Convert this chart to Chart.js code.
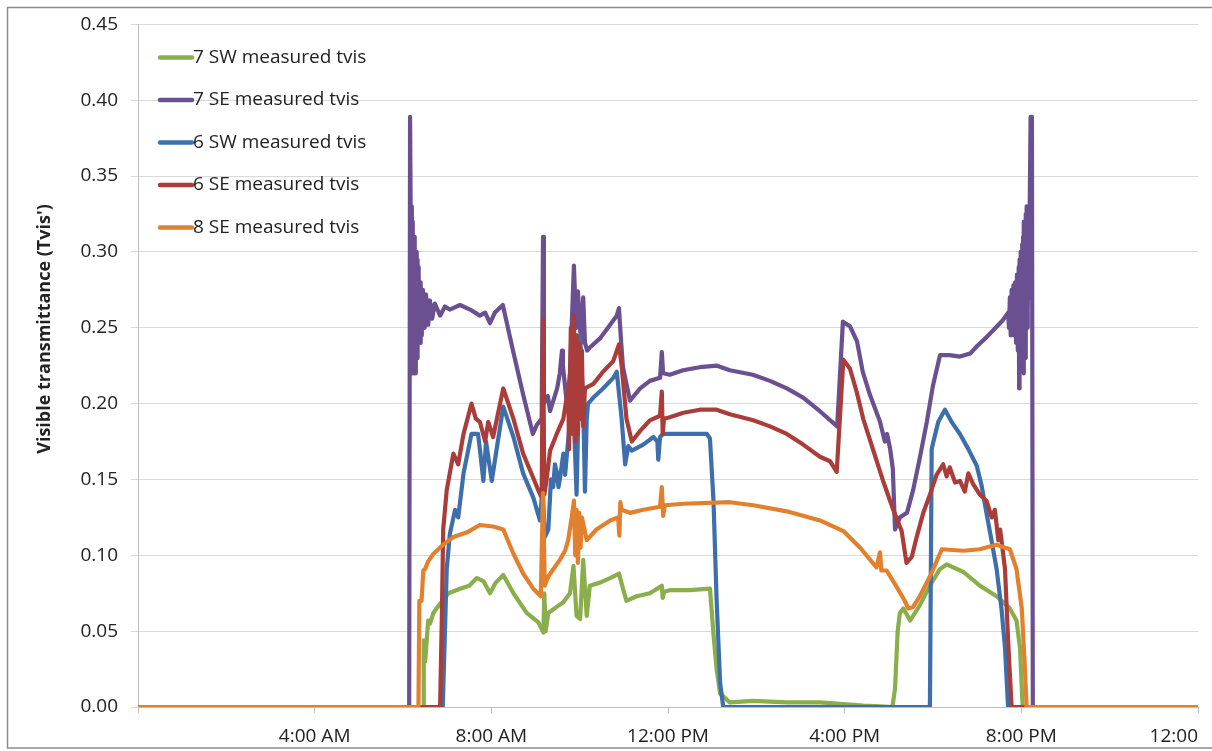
<!DOCTYPE html>
<html><head><meta charset="utf-8">
<script src="https://cdn.jsdelivr.net/npm/chart.js@4/dist/chart.umd.min.js"></script>
<style>html,body{margin:0;padding:0;background:#fff}#wrap{width:1212px;height:751px;position:relative}</style>
</head><body><div id="wrap"><canvas id="c" width="1212" height="751"></canvas></div>
<script>
// ---- DATA (time in decimal hours of day, value = Tvis') ----
const seriesNames = ['7 SW measured tvis','7 SE measured tvis','6 SW measured tvis','6 SE measured tvis','8 SE measured tvis'];
const xTickLabels = ['', '4:00 AM', '8:00 AM', '12:00 PM', '4:00 PM', '8:00 PM', '12:00'];
const yAxisTitle = "Visible transmittance (Tvis')";

const sw7Time = [0,6.46,6.47,6.50,6.54,6.57,6.61,6.69,6.76,7.03,7.29,7.50,7.67,7.82,7.97,8.10,8.27,8.50,8.80,9.06,9.18,9.20,9.23,9.29,9.48,9.63,9.78,9.86,9.93,10.01,10.08,10.16,10.23,10.46,10.69,10.89,10.99,11.06,11.29,11.59,11.86,11.88,11.91,12.04,12.50,12.95,13.03,13.10,13.18,13.40,13.93,14.69,15.44,16.42,16.80,17.08,17.14,17.20,17.25,17.33,17.48,17.70,17.93,18.16,18.31,18.69,19.06,19.44,19.74,19.89,19.97,20.03,24];
const sw7Tvis = [0,0,0.044,0.03,0.045,0.057,0.055,0.062,0.065,0.075,0.078,0.08,0.085,0.083,0.075,0.082,0.087,0.075,0.062,0.056,0.049,0.075,0.05,0.062,0.066,0.069,0.075,0.093,0.06,0.058,0.097,0.06,0.08,0.082,0.085,0.088,0.077,0.07,0.073,0.075,0.08,0.072,0.076,0.077,0.077,0.078,0.048,0.025,0.009,0.003,0.004,0.003,0.003,0.001,0.0005,0,0.012,0.05,0.062,0.065,0.057,0.067,0.08,0.091,0.094,0.089,0.08,0.073,0.065,0.057,0.039,0,0];

const se7Time = [0,6.14,6.16,6.18,6.19,6.20,6.21,6.22,6.23,6.24,6.25,6.26,6.27,6.28,6.29,6.30,6.31,6.32,6.33,6.34,6.35,6.36,6.37,6.38,6.39,6.40,6.41,6.42,6.43,6.44,6.45,6.47,6.49,6.52,6.57,6.61,6.66,6.72,6.84,
  6.95,7.06,7.29,7.52,7.74,7.86,7.97,8.08,8.26,8.49,8.72,8.94,9.03,9.14,9.17,9.19,9.28,9.33,9.49,9.55,9.60,9.62,9.71,9.78,9.87,9.92,9.96,10.03,10.08,10.12,10.17,10.23,10.46,10.69,10.84,10.89,10.94,10.98,11.14,11.37,11.59,11.82,11.86,11.89,12.04,12.34,12.72,13.11,13.40,13.92,14.31,14.69,15.06,15.44,15.83,15.96,16.12,16.28,16.41,16.57,16.80,16.91,16.96,17.03,17.09,17.14,17.25,17.41,17.55,17.70,17.86,18.00,18.16,18.38,18.61,18.84,19.00,19.22,19.45,19.58,
  19.70,19.72,19.74,19.76,19.78,19.80,19.82,19.84,19.86,19.88,19.90,19.92,19.94,19.95,19.96,19.97,19.98,19.99,20.00,20.01,20.02,20.03,20.04,20.05,20.06,20.07,20.08,20.09,20.10,20.11,20.12,20.13,20.14,20.15,20.16,20.17,20.19,20.21,20.24,20.26,24];
const se7Tvis = [0,0,0.389,0.389,0.25,0.33,0.22,0.32,0.23,0.31,0.22,0.31,0.23,0.30,0.22,0.30,0.24,0.295,0.23,0.29,0.24,0.285,0.25,0.28,0.24,0.28,0.25,0.275,0.245,0.275,0.25,0.27,0.25,0.272,0.252,0.268,0.256,0.266,0.258,
  0.264,0.262,0.265,0.262,0.258,0.26,0.253,0.26,0.265,0.235,0.206,0.18,0.186,0.19,0.31,0.20,0.205,0.195,0.21,0.22,0.235,0.225,0.20,0.22,0.291,0.25,0.274,0.24,0.27,0.24,0.235,0.237,0.243,0.252,0.258,0.263,0.24,0.224,0.202,0.21,0.215,0.217,0.234,0.22,0.219,0.222,0.224,0.225,0.222,0.219,0.215,0.21,0.204,0.195,0.185,0.254,0.251,0.241,0.221,0.206,0.188,0.175,0.18,0.17,0.157,0.117,0.125,0.128,0.143,0.164,0.188,0.212,0.232,0.232,0.231,0.233,0.238,0.244,0.251,0.255,
  0.26,0.25,0.27,0.245,0.275,0.25,0.278,0.245,0.28,0.24,0.285,0.235,0.29,0.21,0.295,0.225,0.30,0.23,0.30,0.245,0.305,0.24,0.31,0.22,0.32,0.25,0.32,0.23,0.325,0.26,0.33,0.25,0.33,0.26,0.33,0.27,0.33,0.389,0.389,0,0];

const sw6Time = [0,6.90,6.95,6.99,7.06,7.18,7.25,7.37,7.55,7.70,7.76,7.82,7.88,7.93,8.01,8.12,8.27,8.50,8.72,8.95,9.10,9.16,9.21,9.29,9.35,9.40,9.44,9.48,9.52,9.55,9.63,9.67,9.78,9.86,9.93,10.01,10.08,10.12,10.16,10.19,10.31,10.53,10.76,10.84,10.95,11.03,11.10,11.18,11.44,11.67,11.76,11.78,11.82,11.89,12.20,12.88,12.95,13.03,13.10,13.18,13.25,17.93,17.97,18.01,18.12,18.27,18.42,18.61,18.80,18.99,19.10,19.21,19.33,19.44,19.55,19.63,19.70,24];
const sw6Tvis = [0,0,0.05,0.091,0.114,0.13,0.125,0.154,0.18,0.18,0.165,0.149,0.175,0.165,0.149,0.17,0.198,0.178,0.154,0.138,0.123,0.145,0.112,0.117,0.15,0.145,0.16,0.155,0.145,0.15,0.167,0.153,0.189,0.197,0.14,0.245,0.2,0.142,0.19,0.2,0.204,0.21,0.217,0.221,0.19,0.16,0.172,0.169,0.173,0.178,0.175,0.163,0.178,0.18,0.18,0.18,0.177,0.136,0.071,0.016,0,0,0.17,0.175,0.188,0.196,0.188,0.18,0.17,0.159,0.146,0.128,0.109,0.091,0.065,0.039,0,0];

const se6Time = [0,6.84,6.88,6.91,6.99,7.14,7.25,7.37,7.55,7.65,7.74,7.86,7.93,8.04,8.27,8.50,8.72,8.95,9.06,9.14,9.17,9.20,9.25,9.33,9.48,9.63,9.74,9.76,9.80,9.84,9.87,9.90,9.93,9.96,9.99,10.02,10.05,10.08,10.12,10.31,10.53,10.76,10.89,10.95,11.06,11.18,11.37,11.59,11.82,11.86,11.88,11.91,12.04,12.35,12.72,13.10,13.40,13.93,14.31,14.69,15.06,15.44,15.67,15.82,15.97,16.12,16.27,16.42,16.65,16.87,17.10,17.29,17.40,17.52,17.63,17.78,17.93,18.08,18.23,18.31,18.38,18.50,18.61,18.72,18.80,18.91,19.06,19.21,19.33,19.40,19.48,19.52,19.63,19.70,19.78,24];
const se6Tvis = [0,0,0.06,0.117,0.143,0.167,0.16,0.18,0.20,0.19,0.188,0.175,0.188,0.178,0.21,0.19,0.167,0.151,0.143,0.138,0.256,0.14,0.15,0.169,0.18,0.19,0.21,0.17,0.25,0.18,0.258,0.175,0.245,0.18,0.24,0.19,0.235,0.185,0.21,0.213,0.221,0.228,0.239,0.225,0.19,0.175,0.182,0.189,0.192,0.208,0.18,0.19,0.191,0.194,0.196,0.196,0.193,0.189,0.185,0.18,0.173,0.165,0.162,0.155,0.229,0.223,0.208,0.19,0.169,0.149,0.13,0.116,0.095,0.099,0.112,0.128,0.14,0.153,0.16,0.152,0.158,0.148,0.149,0.142,0.154,0.147,0.14,0.136,0.125,0.13,0.11,0.117,0.091,0.044,0,0];

const se8Time = [0,6.35,6.37,6.42,6.46,6.50,6.57,6.69,6.91,7.14,7.44,7.74,8.04,8.27,8.50,8.72,8.95,9.12,9.17,9.21,9.29,9.55,9.67,9.74,9.82,9.87,9.90,9.93,9.96,9.99,10.02,10.05,10.16,10.38,10.69,10.87,10.90,10.92,10.95,11.14,11.44,11.82,11.86,11.89,11.93,12.35,13.40,13.93,14.69,15.44,15.97,16.35,16.72,16.80,16.83,16.95,17.18,17.36,17.44,17.55,17.70,17.93,18.08,18.20,18.69,19.06,19.44,19.74,19.89,20.01,20.08,20.12,24];
const se8Tvis = [0,0,0.07,0.07,0.09,0.091,0.096,0.101,0.107,0.112,0.115,0.12,0.119,0.117,0.101,0.088,0.078,0.073,0.141,0.08,0.086,0.097,0.103,0.11,0.125,0.136,0.10,0.13,0.095,0.128,0.105,0.125,0.11,0.117,0.123,0.125,0.113,0.135,0.13,0.128,0.13,0.132,0.145,0.126,0.133,0.134,0.135,0.133,0.129,0.123,0.116,0.105,0.092,0.102,0.09,0.09,0.079,0.07,0.065,0.066,0.073,0.086,0.096,0.104,0.103,0.104,0.107,0.104,0.091,0.065,0.026,0,0];

const seriesColors = ['#89AE4B','#6A4F91','#3E6FAC','#AA3D3A','#E3802E'];
const seriesTimes = [sw7Time, se7Time, sw6Time, se6Time, se8Time];
const seriesValues = [sw7Tvis, se7Tvis, sw6Tvis, se6Tvis, se8Tvis];
const drawOrder = [5, 4, 3, 2, 1]; // lower = drawn on top

const FONT = "'Open Sans', 'DejaVu Sans', sans-serif";
const TEXT = '#222222';

const datasets = seriesNames.map((name, i) => {
  const n = Math.min(seriesTimes[i].length, seriesValues[i].length);
  const pts = [];
  for (let k = 0; k < n; k++) pts.push({x: seriesTimes[i][k], y: seriesValues[i][k]});
  return {
    label: name,
    data: pts,
    borderColor: seriesColors[i],
    backgroundColor: seriesColors[i],
    borderWidth: 4.2,
    pointRadius: 0,
    tension: 0,
    fill: false,
    borderJoinStyle: 'round',
    borderCapStyle: 'round',
    order: drawOrder[i]
  };
});

const decor = {
  id: 'decor',
  beforeDraw(chart) {
    const ctx = chart.ctx;
    ctx.save();
    ctx.fillStyle = '#fff';
    ctx.fillRect(0, 0, chart.width, chart.height);
    ctx.strokeStyle = '#8c8c8c';
    ctx.lineWidth = 1.5;
    ctx.strokeRect(7.5, 7.5, 1230, 740.5);
    ctx.restore();
  },
  afterDraw(chart) {
    const ctx = chart.ctx;
    ctx.save();
    ctx.translate(45, 329);
    ctx.rotate(-Math.PI / 2);
    ctx.font = "bold 18px " + FONT;
    ctx.fillStyle = TEXT;
    ctx.textAlign = 'center';
    ctx.textBaseline = 'middle';
    ctx.fillText(yAxisTitle, 0, 0);
    ctx.restore();
    ctx.save();
    const ys = [57.5, 100, 142.5, 185, 227.5];
    ctx.font = "19px " + FONT;
    ctx.textBaseline = 'middle';
    ctx.textAlign = 'left';
    seriesNames.forEach((n, i) => {
      ctx.strokeStyle = seriesColors[i];
      ctx.lineWidth = 4.5;
      ctx.lineCap = 'round';
      ctx.beginPath();
      ctx.moveTo(160, ys[i]);
      ctx.lineTo(192, ys[i]);
      ctx.stroke();
      ctx.fillStyle = TEXT;
      ctx.fillText(n, 193, ys[i]);
    });
    ctx.restore();
  }
};

new Chart(document.getElementById('c'), {
  type: 'line',
  data: { datasets },
  options: {
    responsive: false,
    animation: false,
    devicePixelRatio: 1,
    layout: { padding: { left: 0, top: 22.5, right: 14, bottom: 0 } },
    plugins: { legend: { display: false }, tooltip: { enabled: false } },
    scales: {
      x: {
        type: 'linear', min: 0, max: 24,
        ticks: {
          stepSize: 4, autoSkip: false, maxRotation: 0, align: 'inner',
          padding: 12, color: TEXT, font: { family: FONT, size: 19 },
          callback: (v, i) => xTickLabels[i]
        },
        grid: { drawOnChartArea: false, drawTicks: true, tickLength: 6, color: '#bfbfbf' },
        border: { color: '#bfbfbf' },
        afterFit: (s) => { s.height = 44; s.paddingRight = 0; s.paddingLeft = 0; }
      },
      y: {
        min: 0, max: 0.45,
        ticks: {
          stepSize: 0.05, padding: 13, color: TEXT, font: { family: FONT, size: 19 },
          callback: (v) => v.toFixed(2)
        },
        grid: { color: '#d9d9d9', tickLength: 7, drawTicks: true },
        border: { color: '#bfbfbf' },
        afterFit: (s) => { s.width = 138; }
      }
    }
  },
  plugins: [decor]
});
</script>
</body></html>
